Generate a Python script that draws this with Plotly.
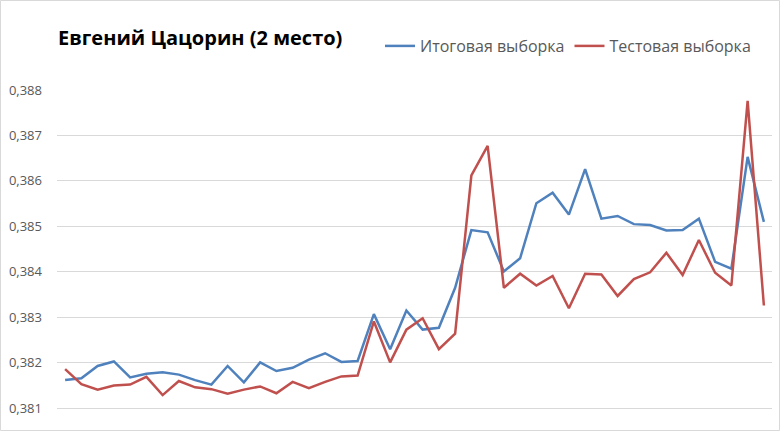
import plotly.graph_objects as go

title_text = "Евгений Цацорин (2 место)"
series_names = ["Итоговая выборка", "Тестовая выборка"]
categories = list(range(1, 45))

final_sample = [
    0.38162, 0.38166, 0.38193, 0.38203, 0.38168, 0.38176, 0.38179, 0.38174,
    0.38162, 0.38152, 0.38193, 0.38157, 0.38201, 0.38182, 0.38189, 0.38207,
    0.38221, 0.38202, 0.38204, 0.38307, 0.38230, 0.38315, 0.38273, 0.38277,
    0.38365, 0.38492, 0.38487, 0.38401, 0.38430, 0.38551, 0.38574, 0.38526,
    0.38626, 0.38517, 0.38523, 0.38505, 0.38503, 0.38491, 0.38492, 0.38517,
    0.38422, 0.38407, 0.38653, 0.38510,
]
test_sample = [
    0.38186, 0.38153, 0.38141, 0.38150, 0.38152, 0.38169, 0.38129, 0.38160,
    0.38146, 0.38142, 0.38132, 0.38141, 0.38148, 0.38133, 0.38158, 0.38144,
    0.38158, 0.38170, 0.38172, 0.38291, 0.38201, 0.38273, 0.38298, 0.38230,
    0.38264, 0.38612, 0.38677, 0.38365, 0.38396, 0.38370, 0.38391, 0.38320,
    0.38396, 0.38394, 0.38347, 0.38384, 0.38399, 0.38442, 0.38393, 0.38470,
    0.38398, 0.38370, 0.38776, 0.38326,
]
y_ticks = [0.381, 0.382, 0.383, 0.384, 0.385, 0.386, 0.387, 0.388]

W, H = 780, 431
L, R, T, B = 57, 8, 90, 0
pw, ph = W - L - R, H - T - B

fig = go.Figure()
fig.add_trace(go.Scatter(x=categories, y=final_sample, mode="lines", name=series_names[0],
                         line=dict(color="#4F81BD", width=2.5)))
fig.add_trace(go.Scatter(x=categories, y=test_sample, mode="lines", name=series_names[1],
                         line=dict(color="#C0504D", width=2.5)))

# chart border
fig.add_shape(type="rect", xref="paper", yref="paper",
              x0=(0.5 - L) / pw, x1=(W - 0.5 - L) / pw,
              y0=(0.5 - B) / ph, y1=(H - 0.5 - B) / ph,
              line=dict(color="#D9D9D9", width=1), layer="below")

fig.update_layout(
    width=W, height=H,
    margin=dict(l=L, r=R, t=T, b=B),
    paper_bgcolor="white", plot_bgcolor="white",
    separators=", ",
    font=dict(family="Open Sans, DejaVu Sans, sans-serif", color="#595959"),
    title=dict(text=title_text, xref="container", yref="container",
               x=58 / W, xanchor="left", y=1 - 38 / H, yanchor="middle",
               font=dict(size=20, color="black", family="Open Sans, sans-serif", weight="bold")),
    showlegend=True,
    legend=dict(orientation="h", xref="container", yref="container",
                x=380 / W, xanchor="left", y=1 - 46 / H, yanchor="middle",
                font=dict(size=16, color="#595959"), itemwidth=30,
                bgcolor="rgba(0,0,0,0)", traceorder="normal"),
    xaxis=dict(range=[0.5, 44.5], showticklabels=False, showgrid=False,
               zeroline=False, showline=False, ticks=""),
    yaxis=dict(range=[0.3805, 0.388], tickvals=y_ticks, tickformat=".3f",
               showgrid=True, gridcolor="#D9D9D9", gridwidth=1, zeroline=False,
               showline=False, ticks="", tickfont=dict(size=13, color="#595959"),
               ticklabelstandoff=14, automargin=False),
)

fig.write_html("out.html",
               config={"displayModeBar": False},
               post_script="document.body.style.margin='0';document.body.style.overflow='hidden';")
